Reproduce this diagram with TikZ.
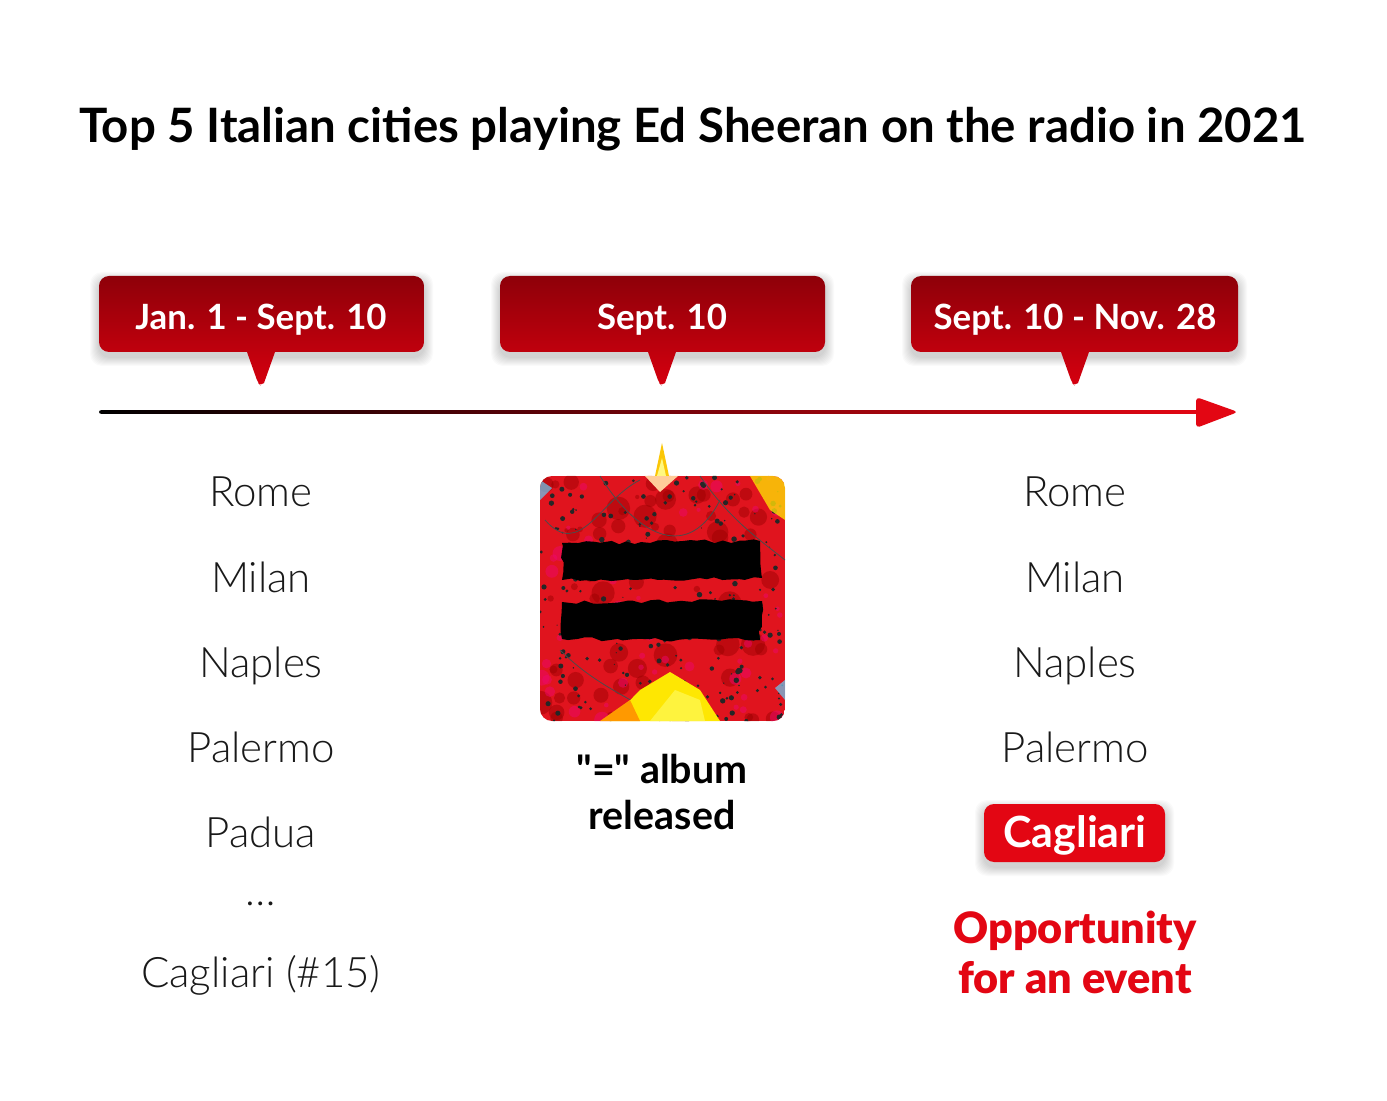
\documentclass[tikz,border=0pt]{standalone}
\usepackage{fontspec}
\setmainfont{Lato}
\newfontfamily\lightfont{Lato Light}
\newfontfamily\blackfont{Lato Black}
\usetikzlibrary{decorations.pathmorphing}
\definecolor{brandred}{HTML}{E30613}
\definecolor{calltop}{HTML}{8E0009}
\definecolor{callbot}{HTML}{D6000F}
\definecolor{artred}{HTML}{E0141E}
\tikzset{
  city/.style={font=\lightfont\fontsize{21}{24}\selectfont, text=black!90, anchor=base},
  calltext/.style={font=\bfseries\fontsize{17.4}{20}\selectfont, text=white, anchor=base},
  callshape/.style={top color=calltop, bottom color=callbot},
  shadowlayer/.style={fill=black, opacity=0.018, rounded corners=6pt},
  oppo/.style={font=\blackfont\fontsize{21.6}{25}\selectfont, text=brandred, align=center},
}
\newcommand{\softbox}[4]{% left, top, right, bottom
  \foreach \k in {1,...,9} {
    \fill[shadowlayer] ({#1-\k},{#2+5-\k}) rectangle ({#3+\k},{#4+5+\k});
  }
}
\newcommand{\callout}[4]{% left, right, center x, name
  \softbox{#1}{276}{#2}{352}
  \shade[callshape] (#1,276) [rounded corners=5pt] -- (#2,276) -- (#2,352) [sharp corners] -- (#3+14,352) -- (#3+3,383) [rounded corners=2pt] -- (#3,386) -- (#3-3,383) [sharp corners] -- (#3-14,352) [rounded corners=5pt] -- (#1,352) -- cycle;
  \coordinate (#4tip) at (#3,386);
}
\begin{document}
\begin{tikzpicture}[x=0.5pt,y=-0.5pt]
\useasboundingbox (0,0) rectangle (1387,1101);
\fill[white] (0,0) rectangle (1387,1101);

% title
\node[font=\bfseries\fontsize{23.7}{28}\selectfont, anchor=base] (title) at (693,143) {Top 5 Italian cities playing Ed Sheeran on the radio in 2021};

% callouts
\callout{99}{424}{261}{c1}
\callout{500}{825}{662}{c2}
\callout{911}{1238}{1075}{c3}
\node[calltext] (t1) at (261,330) {Jan. 1 - Sept. 10};
\node[calltext] (t2) at (662,330) {Sept. 10};
\node[calltext] (t3) at (1075,330) {Sept. 10 - Nov. 28};

% timeline
\coordinate (tlstart) at (99,412);
\coordinate (tlend) at (1238,412);
\shade[left color=black, middle color=brandred, right color=brandred, rounded corners=1pt] (99,410.2) rectangle (1202,413.8);
\fill[brandred, rounded corners=2pt] (1196,397) -- (tlend) -- (1196,428) -- cycle;

% left column
\node[city] (l1) at (261,507) {Rome};
\node[city] (l2) at (261,592) {Milan};
\node[city] (l3) at (261,677) {Naples};
\node[city] (l4) at (261,762) {Palermo};
\node[city] (l5) at (261,847) {Padua};
\node[city] (ldots) at (261,905) {\dots};
\node[city] (l15) at (261,987) {Cagliari (\#15)};

% right column
\node[city] (r1) at (1075,507) {Rome};
\node[city] (r2) at (1075,592) {Milan};
\node[city] (r3) at (1075,677) {Naples};
\node[city] (r4) at (1075,762) {Palermo};
\softbox{984}{804}{1165}{862}
\fill[brandred, rounded corners=5pt] (984,804) rectangle (1165,862);
\node[font=\bfseries\fontsize{21.5}{24}\selectfont, text=white, anchor=base] (r5) at (1075,847) {Cagliari};
\node[oppo] (opp) at (1075,952) {Opportunity\\for an event};

% album art
\begin{scope}
  \clip[rounded corners=6pt] (540,476) rectangle (785,721);
  \fill[artred] (540,476) rectangle (785,721);
  \pgfmathsetseed{42}
  \foreach \i in {1,...,80} {
    \fill[red!60!black, opacity=0.45] ({540+rnd*245},{476+rnd*245}) circle ({1+rnd*5pt});
  }
  \foreach \i in {1,...,60} {
    \fill[magenta!70!red, opacity=0.5] ({540+rnd*245},{476+rnd*245}) circle ({1+rnd*3pt});
  }
  \foreach \i in {1,...,260} {
    \fill[black!85] ({540+rnd*245},{476+rnd*245}) circle ({0.3+rnd*1.1pt});
  }
  \draw[black!70, line width=0.4pt] (600,476) .. controls (640,540) and (690,560) .. (720,500);
  \draw[black!70, line width=0.4pt] (700,476) .. controls (730,520) and (760,540) .. (785,560);
  \draw[black!70, line width=0.4pt] (560,650) .. controls (600,690) and (640,700) .. (660,721);
  \draw[black!70, line width=0.4pt] (545,520) .. controls (580,560) and (600,500) .. (640,480);
  \fill[yellow!90!orange] (610,721) -- (640,690) -- (670,672) -- (700,690) -- (720,721) -- cycle;
  \fill[yellow!70!white, opacity=0.8] (650,721) -- (675,690) -- (700,700) -- (705,721) -- cycle;
  \fill[orange!80!yellow] (600,721) -- (630,700) -- (640,721) -- cycle;
  \fill[yellow!80!orange, opacity=0.8] (750,476) -- (785,476) -- (785,520) -- (770,510) -- cycle;
  \fill[cyan!60, opacity=0.7] (540,480) -- (552,488) -- (540,500) -- cycle;
  \fill[cyan!60, opacity=0.7] (785,680) -- (775,688) -- (785,700) -- cycle;
  \fill[orange!40!white] (645,476) -- (660,492) -- (678,476) -- cycle;
  \fill[black, decorate, decoration={random steps, segment length=4pt, amplitude=1pt}] (562,543) -- (760,541) -- (762,578) -- (562,580) -- cycle;
  \fill[black, decorate, decoration={random steps, segment length=4pt, amplitude=1pt}] (562,602) -- (762,601) -- (760,640) -- (562,639) -- cycle;
\end{scope}
\fill[yellow!60!orange] (655,476) -- (662,443) -- (669,476) -- cycle;
\fill[yellow!50!white] (657,476) -- (662,458) -- (666,476) -- cycle;
\coordinate (albumtop) at (662,443);

\node[font=\bfseries\fontsize{19.7}{23}\selectfont, align=center] (album) at (662,792) {{\addfontfeatures{Ligatures=TeXOff}"="} album\\released};
\end{tikzpicture}
\end{document}
